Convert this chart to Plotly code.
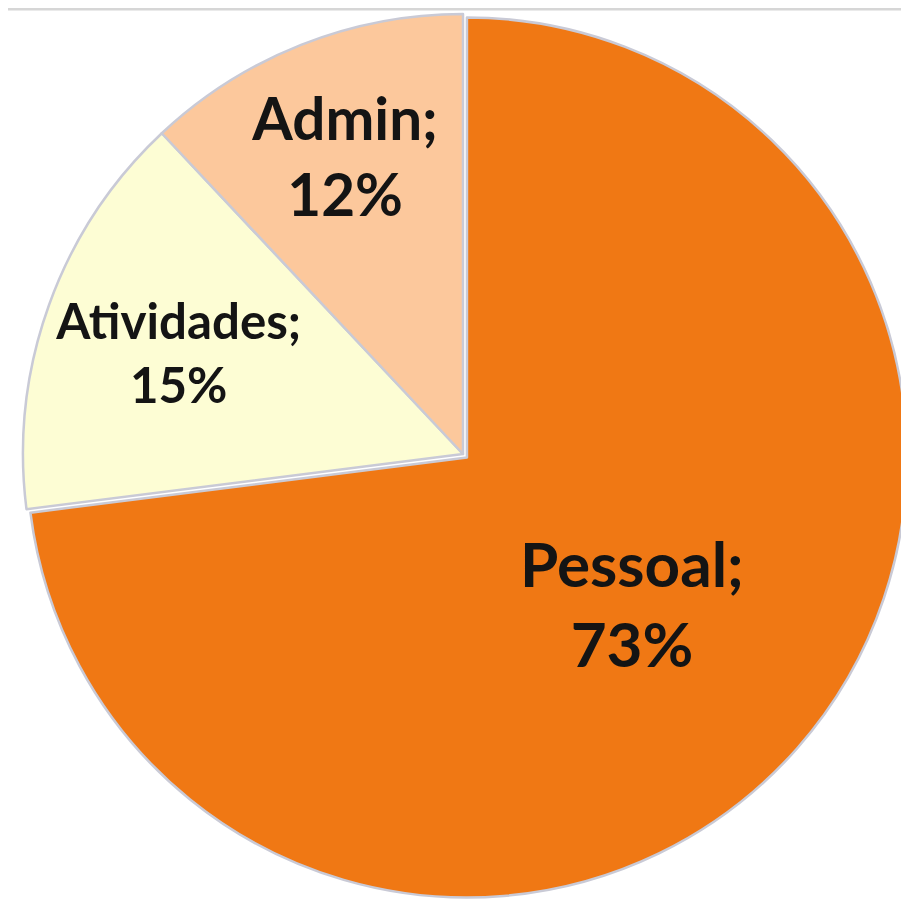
import plotly.graph_objects as go

categories = ["Pessoal", "Atividades", "Admin"]
values = [73, 15, 12]
colors = ["#F07814", "#FDFDD4", "#FCC89C"]
pulls = [0.012, 0, 0]

W, H = 909, 904
cx, cy, r = 455, 446, 440
half = r * (1 + max(pulls))

fig = go.Figure(go.Pie(
    labels=categories,
    values=values,
    sort=False,
    direction="clockwise",
    rotation=0,
    pull=pulls,
    marker=dict(colors=colors, line=dict(color="#C9CAD6", width=2.5)),
    texttemplate="%{label};<br>%{value}%",
    textposition="inside",
    insidetextorientation="horizontal",
    insidetextfont=dict(family="Lato", size=62, color="#141414", weight="bold"),
    showlegend=False,
    hoverinfo="label+percent",
    domain=dict(x=[(cx - half) / W, (cx + half) / W],
                y=[1 - (cy + half) / H, 1 - (cy - half) / H]),
))

fig.add_shape(type="line", xref="paper", yref="paper",
              x0=0, x1=1, y0=1, y1=1,
              line=dict(color="#D6D6D6", width=5))

fig.update_layout(
    width=W, height=H,
    margin=dict(l=0, r=0, t=0, b=0),
    paper_bgcolor="white",
    plot_bgcolor="white",
)

fig.write_html("out.html")
